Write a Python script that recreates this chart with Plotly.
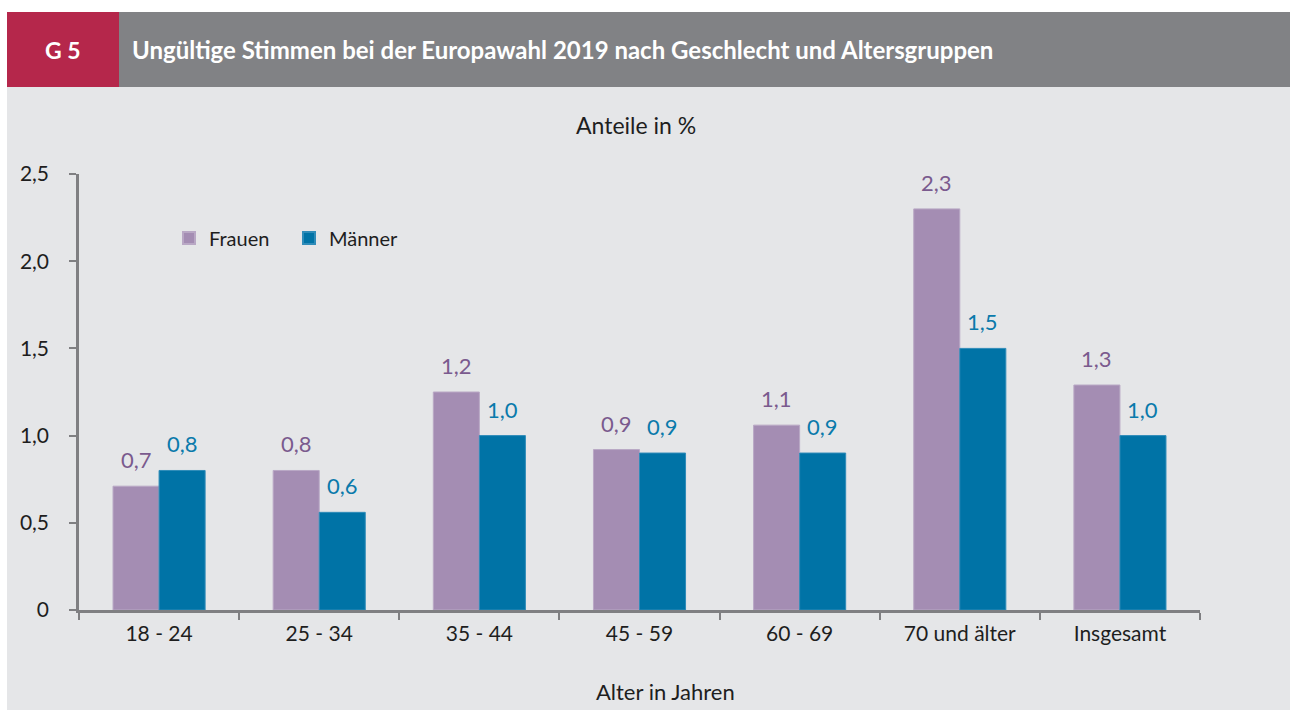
import plotly.graph_objects as go

categories = ["18 - 24", "25 - 34", "35 - 44", "45 - 59", "60 - 69", "70 und älter", "Insgesamt"]
frauen = [0.71, 0.80, 1.25, 0.92, 1.06, 2.30, 1.29]
maenner = [0.80, 0.56, 1.00, 0.90, 0.90, 1.50, 1.00]
frauen_labels = ["0,7", "0,8", "1,2", "0,9", "1,1", "2,3", "1,3"]
maenner_labels = ["0,8", "0,6", "1,0", "0,9", "0,9", "1,5", "1,0"]
y_tickvals = [0, 0.5, 1.0, 1.5, 2.0, 2.5]
y_ticktext = ["0", "0,5", "1,0", "1,5", "2,0", "2,5"]

FONT = "Lato"
W, H = 1290, 711
# plot area in page pixels: x 79..1200, y 174..610
L, T = 79, 174
R = W - 1200
B = H - 610
PW, PH = W - L - R, H - T - B

def px_x(px):
    return (px - L) / PW

def px_y(py):
    return (H - B - py) / PH

C_F = "#a48db3"
C_M = "#0073a6"
C_FL = "#7a5a8e"
C_ML = "#0a7aab"
AXIS = "#7f7f82"
TXT = "#1e1e1e"

fig = go.Figure()
fig.add_trace(go.Bar(name="Frauen", x=categories, y=frauen,
                     marker=dict(color=C_F, line=dict(color="#b9a8c5", width=1))))
fig.add_trace(go.Bar(name="Männer", x=categories, y=maenner,
                     marker=dict(color=C_M, line=dict(color="#2f8cb9", width=1))))

shapes = [
    dict(type="rect", xref="paper", yref="paper", x0=px_x(7), x1=px_x(1300), y0=px_y(87), y1=px_y(710),
         fillcolor="#e5e6e8", line_width=0, layer="below"),
    dict(type="rect", xref="paper", yref="paper", x0=px_x(119), x1=px_x(1300), y0=px_y(12), y1=px_y(87),
         fillcolor="#818285", line_width=0, layer="below"),
    dict(type="rect", xref="paper", yref="paper", x0=px_x(7), x1=px_x(119), y0=px_y(12), y1=px_y(87),
         fillcolor="#b5274b", line_width=0, layer="below"),
]

ann = [
    dict(x=px_x(63), y=px_y(50), xref="paper", yref="paper", text="<b>G 5</b>", showarrow=False,
         font=dict(family=FONT, size=23, color="white"), xanchor="center", yanchor="middle"),
    dict(x=px_x(130), y=px_y(50), xref="paper", yref="paper",
         text="<b>Ungültige Stimmen bei der Europawahl 2019 nach Geschlecht und Altersgruppen</b>",
         showarrow=False, font=dict(family=FONT, size=24, color="white"), xanchor="left", yanchor="middle"),
    dict(x=px_x(636), y=px_y(125), xref="paper", yref="paper", text="Anteile in %", showarrow=False,
         font=dict(family=FONT, size=23, color=TXT), xanchor="center", yanchor="middle"),
    dict(x=px_x(665), y=px_y(691), xref="paper", yref="paper", text="Alter in Jahren", showarrow=False,
         font=dict(family=FONT, size=22, color=TXT), xanchor="center", yanchor="middle"),
]
for c, v, t in zip(categories, frauen, frauen_labels):
    ann.append(dict(x=c, y=v, xref="x", yref="y", text=t, showarrow=False, xshift=-23, yshift=11,
                    yanchor="bottom", xanchor="center", font=dict(family=FONT, size=22, color=C_FL)))
for c, v, t in zip(categories, maenner, maenner_labels):
    ann.append(dict(x=c, y=v, xref="x", yref="y", text=t, showarrow=False, xshift=23, yshift=11,
                    yanchor="bottom", xanchor="center", font=dict(family=FONT, size=22, color=C_ML)))

fig.update_layout(
    width=W, height=H, autosize=False,
    margin=dict(l=L, r=R, t=T, b=B, pad=0),
    paper_bgcolor="white", plot_bgcolor="rgba(0,0,0,0)",
    barmode="group", bargap=0.425, bargroupgap=0,
    font=dict(family=FONT, size=21, color=TXT),
    shapes=shapes, annotations=ann,
    showlegend=True,
    legend=dict(orientation="h", x=px_x(169), y=px_y(238), xanchor="left", yanchor="middle",
                bgcolor="rgba(0,0,0,0)", font=dict(family=FONT, size=20, color=TXT),
                entrywidth=75, entrywidthmode="pixels", itemsizing="constant"),
    xaxis=dict(type="category", tickson="boundaries", ticks="outside", ticklen=7, tickwidth=2,
               tickcolor=AXIS, showline=True, linecolor=AXIS, linewidth=2.5, showgrid=False,
               ticklabelstandoff=3, tickfont=dict(family=FONT, size=21, color=TXT)),
    yaxis=dict(range=[0, 2.5], tickvals=y_tickvals, ticktext=y_ticktext, ticks="outside", ticklen=7,
               tickwidth=2, tickcolor=AXIS, showline=True, linecolor=AXIS, linewidth=2.5,
               showgrid=False, zeroline=False, ticklabelstandoff=16,
               tickfont=dict(family=FONT, size=21, color=TXT)),
)

fig.write_html("out.html", default_width=f"{W}px", default_height=f"{H}px",
               config={"displayModeBar": False},
               post_script="document.body.style.margin='0px';document.body.style.overflow='hidden';")
